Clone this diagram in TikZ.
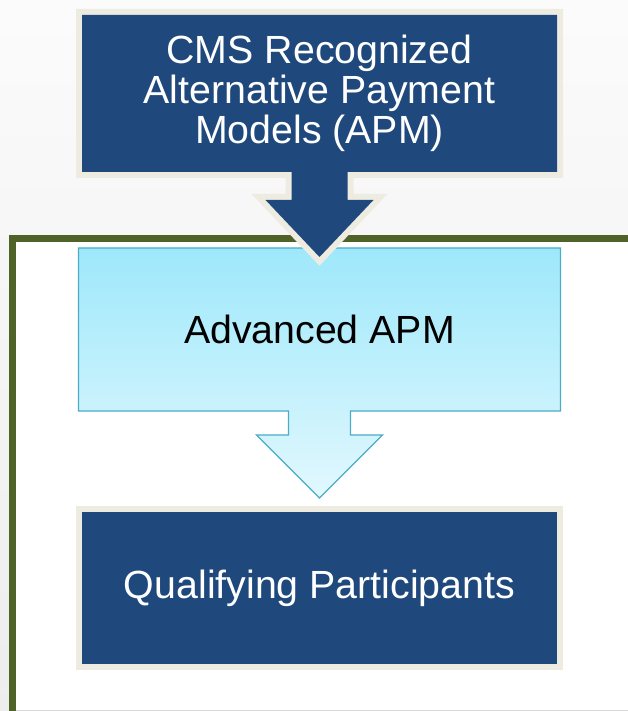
\documentclass[tikz,border=0pt]{standalone}
\usepackage{fontspec}
\setmainfont{Liberation Sans}
\usetikzlibrary{positioning,calc,backgrounds}

\definecolor{navy}{HTML}{1F497D}
\definecolor{cream}{HTML}{EEECE1}
\definecolor{olive}{HTML}{4F6228}
\definecolor{cyanedge}{HTML}{4BACC6}
\definecolor{cyantop}{HTML}{9EE8FB}
\definecolor{cyanbot}{HTML}{E2F8FE}

\begin{document}
\begin{tikzpicture}[
    x=1pt, y=-1pt,
    node distance=76pt,
    txt/.style={font=\fontsize{39.3}{40}\selectfont, align=center, inner sep=0pt, outer sep=0pt},
    dark/.style={txt, text=white, minimum width=475pt, minimum height=157pt},
    light/.style={txt, text=black, minimum width=482pt, minimum height=163pt},
    shell/.style={preaction={draw=cream, line width=12pt}, fill=navy},
    block/.style={draw=cyanedge, line width=1.2pt, top color=cyantop, bottom color=cyanbot}
]
    \useasboundingbox (0,0) rectangle (628,711);

    \node[dark] (cms) at (319.5,93.5) {CMS Recognized\\Alternative Payment\\Models (APM)};
    \node[light, below=of cms] (adv) {Advanced APM};
    \node[dark, minimum height=152pt, below=101pt of adv] (qp) {Qualifying Participants};

    \begin{scope}[on background layer]
        \shade[top color=gray!3, bottom color=gray!14] (0,0) rectangle (628,711);
        \fill[white] (12.5,238.5) rectangle (628,711);
        \draw[olive, line width=7pt] (12.5,716) -- (12.5,238.5) -- (634,238.5);
        \draw[gray!30, line width=1pt] (16,710.5) -- (628,710.5);

        % light arrow box
        \draw[block] (adv.north west) -- (adv.north east) -- (adv.south east)
            -- ($(adv.south)+(31,0)$) -- ($(adv.south)+(31,24)$) -- ($(adv.south)+(63,24)$)
            -- ($(adv.south)+(0,87)$)
            -- ($(adv.south)+(-63,24)$) -- ($(adv.south)+(-31,24)$) -- ($(adv.south)+(-31,0)$)
            -- (adv.south west) -- cycle;

        % dark arrow box
        \path[shell] (cms.north west) -- (cms.north east) -- (cms.south east)
            -- ($(cms.south)+(28,0)$) -- ($(cms.south)+(28,28)$) -- ($(cms.south)+(54,28)$)
            -- ($(cms.south)+(0,85)$)
            -- ($(cms.south)+(-54,28)$) -- ($(cms.south)+(-28,28)$) -- ($(cms.south)+(-28,0)$)
            -- (cms.south west) -- cycle;

        \path[shell] (qp.north west) rectangle (qp.south east);
    \end{scope}
\end{tikzpicture}
\end{document}
